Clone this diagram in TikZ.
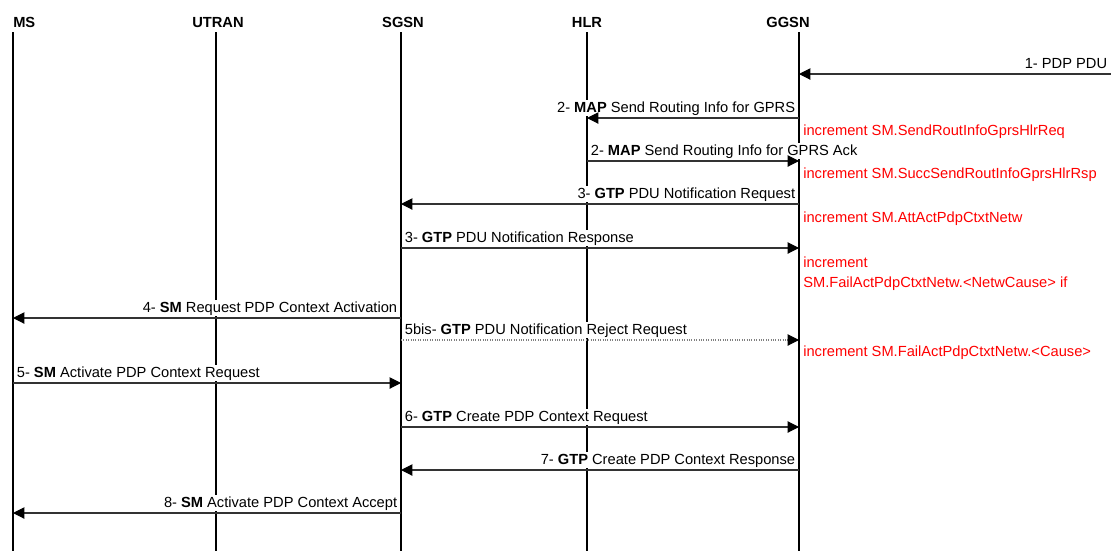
\documentclass[tikz,border=0pt]{standalone}
\usepackage{fontspec}
\setmainfont{Liberation Sans}
\usetikzlibrary{arrows.meta}

\begin{document}
\begin{tikzpicture}[
  x=0.75pt, y=-0.75pt,
  font=\fontsize{11}{13}\selectfont,
  head/.style={font=\fontsize{11}{13}\selectfont\bfseries, anchor=base, inner sep=0pt},
  life/.style={line width=1.5pt},
  msg/.style={-{Triangle[length=8.5pt, width=8.5pt, color=black]}, line width=0.8pt, black!80},
  rej/.style={msg, densely dotted, gray},
  lblL/.style={behind path, anchor=base east, xshift=-1.5pt, yshift=4.5pt, fill=white, inner sep=1pt, text=black},
  lblR/.style={behind path, anchor=base west, xshift=1.5pt, yshift=4.5pt, fill=white, inner sep=1pt, text=black},
  cnt/.style={anchor=base west, inner sep=0pt, text=red},
]
  \useasboundingbox (0,0) rectangle (1111,551);

  % Lifelines
  \coordinate (ms) at (13,32);
  \coordinate (utran) at (216,32);
  \coordinate (sgsn) at (401,32);
  \coordinate (hlr) at (587,32);
  \coordinate (ggsn) at (799,32);
  \coordinate (bot) at (0,551);

  \node[head, anchor=base west] (msT) at (13,27) {MS};
  \node[head] (utranT) at (218,27) {UTRAN};
  \node[head] (sgsnT) at (403,27) {SGSN};
  \node[head] (hlrT) at (587,27) {HLR};
  \node[head] (ggsnT) at (788,27) {GGSN};

  \foreach \n in {ms,utran,sgsn,hlr,ggsn}
    \draw[life] (\n) -- (\n |- bot);

  % Message rows
  \coordinate (m1) at (0,74);
  \coordinate (ext) at (1111,74);
  \coordinate (m2a) at (0,118);
  \coordinate (m2b) at (0,161);
  \coordinate (m3a) at (0,204);
  \coordinate (m3b) at (0,248);
  \coordinate (m4) at (0,318);
  \coordinate (m5b) at (0,340);
  \coordinate (m5) at (0,383);
  \coordinate (m6) at (0,427);
  \coordinate (m7) at (0,470);
  \coordinate (m8) at (0,513);

  \draw[msg] (ext) -- node[lblL, pos=0] (t1) {1- PDP PDU} (ggsn |- m1);
  \draw[msg] (ggsn |- m2a) -- node[lblL, pos=0] (t2a) {2- \textbf{MAP} Send Routing Info for GPRS} (hlr |- m2a);
  \draw[msg] (hlr |- m2b) -- node[lblR, pos=0] (t2b) {2- \textbf{MAP} Send Routing Info for GPRS Ack} (ggsn |- m2b);
  \draw[msg] (ggsn |- m3a) -- node[lblL, pos=0] (t3a) {3- \textbf{GTP} PDU Notification Request} (sgsn |- m3a);
  \draw[msg] (sgsn |- m3b) -- node[lblR, pos=0] (t3b) {3- \textbf{GTP} PDU Notification Response} (ggsn |- m3b);
  \draw[msg] (sgsn |- m4) -- node[lblL, pos=0] (t4) {4- \textbf{SM} Request PDP Context Activation} (ms |- m4);
  \draw[rej] (sgsn |- m5b) -- node[lblR, pos=0] (t5b) {5bis- \textbf{GTP} PDU Notification Reject Request} (ggsn |- m5b);
  \draw[msg] (ms |- m5) -- node[lblR, pos=0] (t5) {5- \textbf{SM} Activate PDP Context Request} (sgsn |- m5);
  \draw[msg] (sgsn |- m6) -- node[lblR, pos=0] (t6) {6- \textbf{GTP} Create PDP Context Request} (ggsn |- m6);
  \draw[msg] (ggsn |- m7) -- node[lblL, pos=0] (t7) {7- \textbf{GTP} Create PDP Context Response} (sgsn |- m7);
  \draw[msg] (sgsn |- m8) -- node[lblL, pos=0] (t8) {8- \textbf{SM} Activate PDP Context Accept} (ms |- m8);

  % Counters
  \node[cnt] (c1) at (803,135) {increment SM.SendRoutInfoGprsHlrReq};
  \node[cnt] (c2) at (803,178) {increment SM.SuccSendRoutInfoGprsHlrRsp};
  \node[cnt] (c3) at (803,222) {increment SM.AttActPdpCtxtNetw};
  \node[cnt] (c4) at (803,267) {increment};
  \node[cnt] (c4b) at (803,287) {SM.FailActPdpCtxtNetw.<NetwCause> if};
  \node[cnt] (c5) at (803,356) {increment SM.FailActPdpCtxtNetw.<Cause>};
\end{tikzpicture}
\end{document}
